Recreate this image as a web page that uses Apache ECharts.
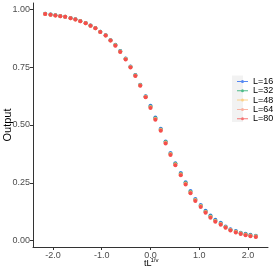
<!DOCTYPE html>
<html><head><meta charset="utf-8">
<script src="https://cdn.jsdelivr.net/npm/echarts@6/dist/echarts.min.js"></script>
<style>html,body{margin:0;padding:0;background:#fff}#c{width:273px;height:273px}</style>
</head><body><div id="c"></div>
<script>
var xVals = [-2.16,-2.05,-1.95,-1.85,-1.75,-1.64,-1.54,-1.44,-1.33,-1.23,-1.13,-1.03,-0.92,-0.82,-0.72,-0.62,-0.51,-0.41,-0.31,-0.21,-0.10,0,0.10,0.21,0.31,0.41,0.51,0.62,0.72,0.82,0.92,1.03,1.13,1.23,1.33,1.44,1.54,1.64,1.75,1.85,1.95,2.05,2.16];
var seriesNames = ['L=16','L=32','L=48','L=64','L=80'];
var L16 = [.981,.978,.975,.972,.969,.963,.958,.950,.941,.931,.920,.904,.888,.867,.847,.820,.788,.753,.716,.674,.624,.583,.532,.484,.429,.379,.335,.292,.252,.214,.180,.154,.129,.108,.090,.077,.061,.049,.041,.034,.029,.025,.021];
var L32 = [.981,.978,.975,.972,.969,.963,.958,.950,.941,.931,.920,.904,.888,.867,.846,.819,.787,.752,.715,.673,.623,.580,.529,.481,.426,.376,.332,.289,.249,.211,.177,.151,.126,.105,.087,.074,.059,.047,.039,.032,.027,.023,.019];
var L48 = [.980,.977,.974,.971,.968,.962,.957,.949,.940,.930,.919,.903,.887,.866,.845,.818,.786,.751,.714,.672,.622,.578,.527,.479,.424,.374,.330,.287,.247,.209,.175,.149,.124,.103,.085,.072,.058,.046,.038,.031,.026,.022,.018];
var L64 = [.980,.977,.974,.971,.968,.962,.957,.949,.940,.930,.919,.903,.887,.866,.844,.817,.785,.750,.713,.671,.621,.576,.525,.477,.422,.372,.328,.285,.245,.207,.173,.147,.122,.101,.083,.070,.056,.044,.036,.029,.024,.020,.016];
var L80 = [.980,.977,.974,.971,.968,.962,.957,.949,.940,.930,.919,.903,.887,.866,.843,.816,.784,.749,.712,.670,.620,.574,.523,.475,.420,.370,.326,.283,.243,.205,.171,.145,.120,.099,.081,.068,.055,.043,.035,.028,.023,.019,.015];
var xTicks = [-2,-1,0,1,2];
var yTicks = [0,0.25,0.5,0.75,1];
var colors = ['#1f63f0','#17a866','#fcc664','#fb9c84','#f44a4a'];
var ys = [L16,L32,L48,L64,L80];

var chart = echarts.init(document.getElementById('c'), null, {renderer:'canvas'});
var FONT = 'Liberation Sans, Arial, sans-serif';
var series = seriesNames.map(function(n,k){
  return {
    name:n, type:'scatter', data: xVals.map(function(x,i){return [x, ys[k][i]];}),
    symbol:'circle', symbolSize:4,
    itemStyle:{color:colors[k], opacity: k===4 ? 0.95 : 0.85},
    emphasis:{disabled:true}, animation:false, z: 2+k
  };
});
var keyIcon = 'path://M0,1L11,1L11,2L0,2Z M4,1.5A1.5,1.5 0 1,1 7,1.5A1.5,1.5 0 1,1 4,1.5Z';
chart.setOption({
  animation:false,
  textStyle:{fontFamily:FONT},
  grid:{left:33, right:5, top:3, bottom:26, containLabel:false, outerBoundsMode:'none'},
  graphic:[
    {type:'rect', left:232, top:75.5, shape:{width:11, height:46.5}, style:{fill:'#f2f2f2'}, z:0},
    {type:'text', left:144, top:259.5, style:{text:'tL', fontSize:9, fill:'#000', fontFamily:FONT}, z:10},
    {type:'text', left:150.5, top:257.5, style:{text:'1/v', fontSize:6, fill:'#000', fontFamily:FONT}, z:10},
    {type:'text', x:7.5, y:125, rotation:Math.PI/2, style:{text:'Output', fontSize:11, fill:'#000', fontFamily:FONT, align:'center', verticalAlign:'middle'}, z:10}
  ],
  legend:{
    orient:'vertical', left:232, top:72, itemWidth:11, itemHeight:3, itemGap:0.3,
    icon: keyIcon,
    itemStyle:{opacity:0.75},
    textStyle:{fontSize:9, lineHeight:9, height:9, color:'#000', fontFamily:FONT},
    data: seriesNames
  },
  xAxis:{
    type:'value', min:-2.41, max:2.41,
    axisLine:{show:true, onZero:false, lineStyle:{color:'#333', width:1}},
    axisTick:{show:true, length:3, lineStyle:{color:'#333'}, customValues:xTicks},
    axisLabel:{fontSize:9, color:'#4d4d4d', margin:4, customValues:xTicks, formatter:function(v){return v.toFixed(1);}},
    splitLine:{show:false}
  },
  yAxis:{
    type:'value', min:-0.028, max:1.028,
    axisLine:{show:true, onZero:false, lineStyle:{color:'#333', width:1}},
    axisTick:{show:true, length:3, lineStyle:{color:'#333'}, customValues:yTicks},
    axisLabel:{fontSize:9, color:'#4d4d4d', margin:3, customValues:yTicks, formatter:function(v){return v.toFixed(2);}},
    splitLine:{show:false}
  },
  series: series
});
</script></body></html>
